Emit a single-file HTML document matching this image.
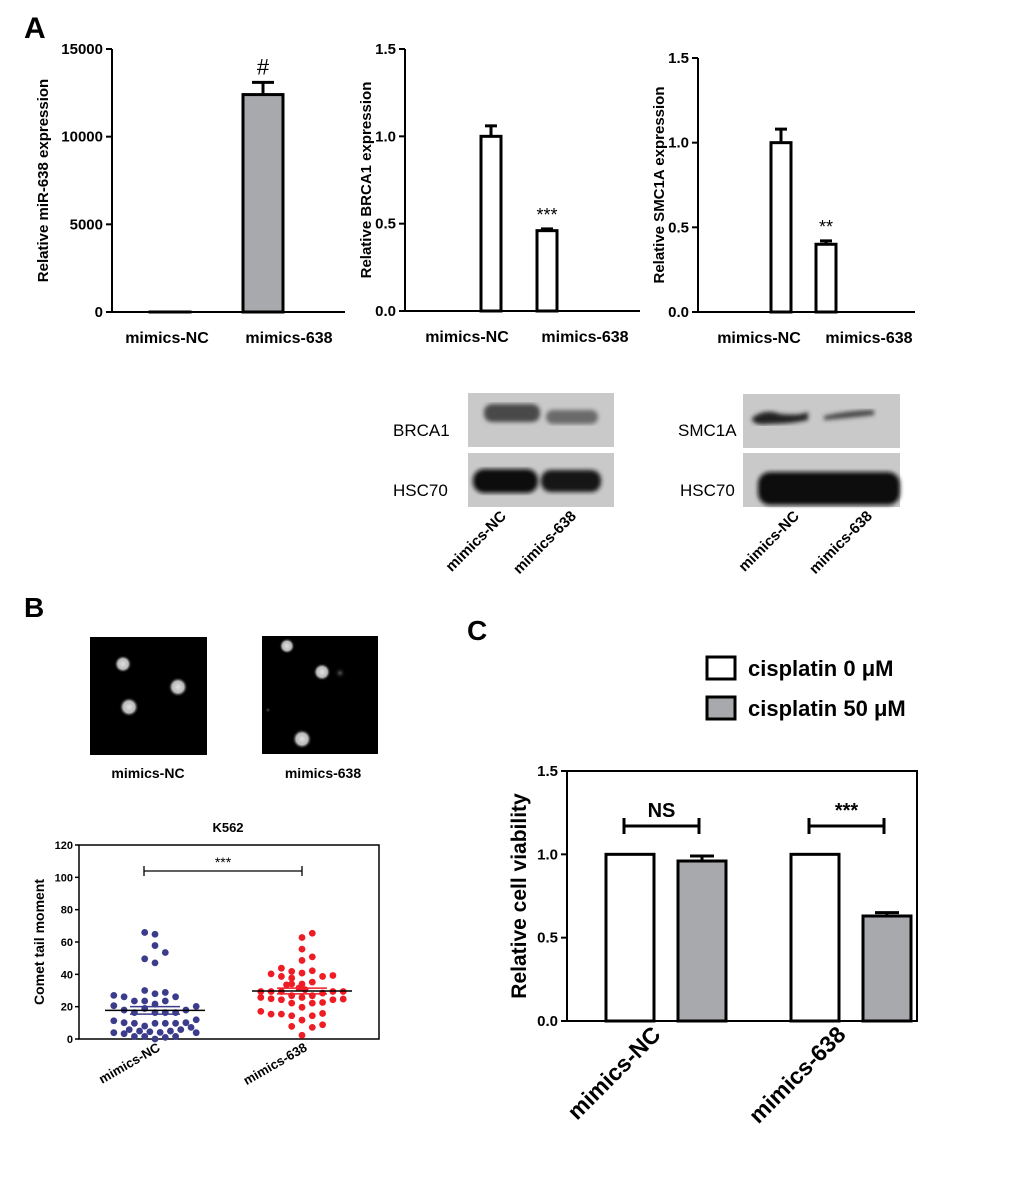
<!DOCTYPE html>
<html><head><meta charset="utf-8"><style>
body{margin:0;background:#fff;}
svg{display:block;font-family:"Liberation Sans",Arial,sans-serif;}
text{font-weight:bold;}
</style></head><body>
<svg id="s" width="1020" height="1177" viewBox="0 0 1020 1177" xmlns="http://www.w3.org/2000/svg">
<defs>
<radialGradient id="dot"><stop offset="0" stop-color="#e0e0e0"/><stop offset="0.6" stop-color="#b8b8b8"/><stop offset="1" stop-color="#000" stop-opacity="0"/></radialGradient>
<radialGradient id="dotf"><stop offset="0" stop-color="#555"/><stop offset="1" stop-color="#000" stop-opacity="0"/></radialGradient>
<filter id="blur"><feGaussianBlur stdDeviation="2.2"/></filter>
</defs>
<text x="24" y="38" font-size="30">A</text>
<text x="24" y="617" font-size="28">B</text>
<text x="467" y="640" font-size="28">C</text>
<g id="a1"></g>
<g id="a2"></g>
<g id="a3"></g>

<g>
<text x="393" y="436" font-size="17" style="font-weight:normal">BRCA1</text>
<text x="393" y="496" font-size="17" style="font-weight:normal">HSC70</text>
<rect x="468" y="393" width="146" height="54" fill="#c9c9c9"/>
<g filter="url(#blur)"><rect x="484" y="404" width="56" height="18" rx="8" fill="#4a4a4a"/><rect x="546" y="410" width="52" height="14" rx="7" fill="#6a6a6a"/></g>
<rect x="468" y="453" width="146" height="54" fill="#c9c9c9"/>
<g filter="url(#blur)"><rect x="473" y="469" width="65" height="24" rx="11" fill="#111"/><rect x="541" y="470" width="60" height="22" rx="10" fill="#151515"/></g>
<text transform="translate(507,517) rotate(-45)" text-anchor="end" font-size="15">mimics-NC</text>
<text transform="translate(577,517) rotate(-45)" text-anchor="end" font-size="15">mimics-638</text>
</g>
<g>
<text x="678" y="436" font-size="17" style="font-weight:normal">SMC1A</text>
<text x="680" y="496" font-size="17" style="font-weight:normal">HSC70</text>
<rect x="743" y="394" width="157" height="54" fill="#c9c9c9"/>
<g filter="url(#blur)"><path d="M752 418 Q765 408 780 414 Q800 416 808 412 L808 420 Q790 424 770 424 Q752 426 752 418Z" fill="#222"/><path d="M824 416 Q850 410 874 410 L874 415 Q850 418 824 420Z" fill="#444"/></g>
<rect x="743" y="453" width="157" height="54" fill="#c9c9c9"/>
<g filter="url(#blur)"><rect x="758" y="472" width="142" height="33" rx="12" fill="#0d0d0d"/></g>
<text transform="translate(800,517) rotate(-45)" text-anchor="end" font-size="15">mimics-NC</text>
<text transform="translate(873,517) rotate(-45)" text-anchor="end" font-size="15">mimics-638</text>
</g>

<g>
<rect x="90" y="637" width="117" height="118" fill="#000"/>
<circle cx="123" cy="664" r="9" fill="url(#dot)"/><circle cx="178" cy="687" r="10" fill="url(#dot)"/><circle cx="129" cy="707" r="10" fill="url(#dot)"/>
</g>
<text x="148" y="778" text-anchor="middle" font-size="14">mimics-NC</text>
<g>
<rect x="262" y="636" width="116" height="118" fill="#000"/>
<circle cx="287" cy="646" r="8" fill="url(#dot)"/><circle cx="322" cy="672" r="9" fill="url(#dot)"/><circle cx="340" cy="673" r="6" fill="url(#dotf)"/><circle cx="302" cy="739" r="10" fill="url(#dot)"/><circle cx="268" cy="710" r="3" fill="url(#dotf)"/>
</g>
<text x="323" y="778" text-anchor="middle" font-size="14">mimics-638</text>

<g id="b"></g>
<g id="c"></g>
</svg>
<script>
const NS="http://www.w3.org/2000/svg";
function mk(p,tag,at,txt){const e=document.createElementNS(NS,tag);for(const k in at)e.setAttribute(k,at[k]);if(txt!==undefined)e.textContent=txt;p.appendChild(e);return e;}

const aCats=["mimics-NC","mimics-638"];
const mirVals=[1,12400];const mirErr=[0,700];const mirTicks=[0,5000,10000,15000];
const brcaVals=[1.0,0.46];const brcaErr=[0.06,0.01];const brcaTicks=[0.0,0.5,1.0,1.5];
const smcVals=[1.0,0.40];const smcErr=[0.08,0.02];const smcTicks=[0.0,0.5,1.0,1.5];
const aSig1=["","#"];const aSig2=["","***"];const aSig3=["","**"];

function barChart(id,o){
  const g=document.getElementById(id);
  const y=v=>o.y0-(v-o.ticks[0])/(o.ticks[o.ticks.length-1]-o.ticks[0])*(o.y0-o.y1);
  const ax=mk(g,'g',{});
  
  
  mk(ax,'line',{x1:o.ax,y1:o.y1,x2:o.ax,y2:o.y0,stroke:'#000','stroke-width':2});
  mk(ax,'line',{x1:o.ax,y1:o.y0,x2:o.axEnd,y2:o.y0,stroke:'#000','stroke-width':2});
  o.ticks.forEach(t=>{
    mk(ax,'line',{x1:o.ax-6,y1:y(t),x2:o.ax,y2:y(t),stroke:'#000','stroke-width':2});
    const tl=mk(ax,'text',{x:o.ax-9,y:y(t)+5,'text-anchor':'end','font-size':15},o.fmt(t));
    
    
  });
  const tt=mk(g,'text',{transform:`translate(${o.tx},${(o.y0+o.y1)/2}) rotate(-90)`,'text-anchor':'middle','font-size':15},o.title);
  
  
  aCats.forEach((c,i)=>{
    const cx=o.cx[i];
    const top=y(o.vals[i]);
    const b=mk(g,'rect',{x:cx-o.bw/2,y:top,width:o.bw,height:o.y0-top,fill:o.fill,stroke:'#000','stroke-width':3});
    
    
    if(o.errs[i]>0){const ey=y(o.vals[i]+o.errs[i]);
      mk(g,'line',{x1:cx,y1:top,x2:cx,y2:ey,stroke:'#000','stroke-width':3});
      mk(g,'line',{x1:cx-o.bw/4-1,y1:ey,x2:cx+o.bw/4+1,y2:ey,stroke:'#000','stroke-width':3});}
    if(o.sig[i]){const s=mk(g,'text',{x:cx,y:y(o.vals[i]+o.errs[i])-8,'text-anchor':'middle','font-size':o.sigSize||18,style:'font-weight:normal'},o.sig[i]);
      
      }
    const l=mk(g,'text',{x:o.lx[i],y:o.y0+31,'text-anchor':'middle','font-size':16},c);
    
    
  });
}
barChart('a1',{ax:112,axEnd:345,y0:312,y1:49,ticks:mirTicks,fmt:t=>String(t),title:'Relative miR-638 expression',tx:48,
  vals:mirVals,errs:mirErr,cx:[170,263],bw:40,fill:'#a7a9ac',sig:aSig1,sigSize:22,lx:[167,289]});
barChart('a2',{ax:405,axEnd:640,y0:311,y1:49,ticks:brcaTicks,fmt:t=>t.toFixed(1),title:'Relative BRCA1 expression',tx:371,
  vals:brcaVals,errs:brcaErr,cx:[491,547],bw:20,fill:'#fff',sig:aSig2,lx:[467,585]});
barChart('a3',{ax:698,axEnd:915,y0:312,y1:58,ticks:smcTicks,fmt:t=>t.toFixed(1),title:'Relative SMC1A expression',tx:664,
  vals:smcVals,errs:smcErr,cx:[781,826],bw:20,fill:'#fff',sig:aSig3,lx:[759,869]});

const bGroups=["mimics-NC","mimics-638"];
const bTicks=[0,20,40,60,80,100,120];
const ncVals=[65.9,64.8,57.8,49.6,53.5,47.1,30.0,28.0,28.8,26.1,27.0,26.1,23.5,23.5,21.6,23.5,20.6,20.2,17.9,17.9,16.3,18.9,16.3,16.3,16.3,11.3,10.1,9.7,8.0,9.7,9.7,9.7,10.1,11.9,3.9,3.3,5.8,4.9,4.5,4.1,4.9,5.8,7.2,3.9,1.6,1.6,0,1.0,1.6];
const ncSlot=[-1,0,0,-1,1,0,-1,0,1,2,-4,-3,-2,-1,0,1,-4,4,3,-3,-2,-1,0,1,2,-4,-3,-2,-1,0,1,2,3,4,-4,-3,-2.5,-1.5,-0.5,0.5,1.5,2.5,3.5,4,-2,-1,0,1,2];
const m638Vals=[65.4,62.8,55.6,50.8,48.6,43.8,40.3,41.8,42.2,38.7,37.7,40.8,38.7,39.3,34,34,35.2,33.5,29.4,29.4,29.4,29.4,29.4,31.5,30.5,25.7,24.9,24.3,26.8,25.7,26.8,28.4,24.3,24.7,22.2,19.6,22.2,22.6,17.1,15.4,15.4,14.4,11.7,14.4,15.8,7.8,7.2,8.8,2.3];
const m638Slot=[1,0,0,1,0,-2,-3,-1,1,-2,-1,0,2,3,-1,0,1,-1.5,-4,-3,-2,3,4,-0.3,0.3,-4,-3,-2,-1,0,1,2,3,4,-1,0,1,2,-4,-3,-2,-1,0,1,2,-1,1,2,0];
const bMeans=[17.7,29.7];const bSem=[2.3,1.8];
(function(){
  const g=document.getElementById('b');
  const X0=79,X1=379,Y0=1039,Y1=845;
  const y=v=>Y0-v/120*(Y0-Y1);
  const cxs=[155,302];
  mk(g,'rect',{x:X0,y:Y1,width:X1-X0,height:Y0-Y1,fill:'none',stroke:'#000','stroke-width':1.5});
  bTicks.forEach(t=>{mk(g,'line',{x1:X0-4,y1:y(t),x2:X0,y2:y(t),stroke:'#000','stroke-width':1.5});
    const l=mk(g,'text',{x:X0-6,y:y(t)+4,'text-anchor':'end','font-size':11},t);
    
    });
  const ti=mk(g,'text',{x:228,y:832,'text-anchor':'middle','font-size':13},'K562');
  
  
  const yt=mk(g,'text',{transform:`translate(44,${(Y0+Y1)/2}) rotate(-90)`,'text-anchor':'middle','font-size':14},'Comet tail moment');
  
  
  const sets=[[ncVals,ncSlot,'#3c3c8c'],[m638Vals,m638Slot,'#ee1c25']];
  sets.forEach((s,gi)=>{
    s[0].forEach((v,i)=>{const c=mk(g,'circle',{cx:cxs[gi]+s[1][i]*10.3,cy:y(v),r:3.4,fill:s[2]});
      
      });
    mk(g,'line',{x1:cxs[gi]-50,y1:y(bMeans[gi]),x2:cxs[gi]+50,y2:y(bMeans[gi]),stroke:'#000','stroke-width':1.5});
    [1,-1].forEach(d=>mk(g,'line',{x1:cxs[gi]-25,y1:y(bMeans[gi]+d*bSem[gi]),x2:cxs[gi]+25,y2:y(bMeans[gi]+d*bSem[gi]),stroke:s[2],'stroke-width':1.5}));
    const l=mk(g,'text',{transform:`translate(${cxs[gi]+6},1050) rotate(-30)`,'text-anchor':'end','font-size':13},bGroups[gi]);
    
    
  });
  const bl=144,br=302,by=871;
  mk(g,'path',{d:`M${bl} ${by-5} V${by+5} M${bl} ${by} H${br} M${br} ${by-5} V${by+5}`,stroke:'#000','stroke-width':1.3,fill:'none'});
  const sg=mk(g,'text',{x:(bl+br)/2,y:by-4,'text-anchor':'middle','font-size':14,style:'font-weight:normal'},'***');
  
  
})();

const cCats=["mimics-NC","mimics-638"];
const cSeries=["cisplatin 0 μM","cisplatin 50 μM"];
const c0Vals=[1.0,1.0];const c0Err=[0,0];
const c50Vals=[0.96,0.63];const c50Err=[0.03,0.02];
const cTicks=[0.0,0.5,1.0,1.5];
const cSig=["NS","***"];
(function(){
  const g=document.getElementById('c');
  const X0=567,X1=917,Y0=1021,Y1=771;
  const y=v=>Y0-v/1.5*(Y0-Y1);
  const groupX=[630,815];const bw=48;const fills=['#fff','#a7a9ac'];
  mk(g,'rect',{x:X0,y:Y1,width:X1-X0,height:Y0-Y1,fill:'none',stroke:'#000','stroke-width':2});
  cTicks.forEach(t=>{mk(g,'line',{x1:X0-6,y1:y(t),x2:X0,y2:y(t),stroke:'#000','stroke-width':2});
    const l=mk(g,'text',{x:X0-9,y:y(t)+5,'text-anchor':'end','font-size':15},t.toFixed(1));
    
    });
  const yt=mk(g,'text',{transform:`translate(526,${(Y0+Y1)/2}) rotate(-90)`,'text-anchor':'middle','font-size':21},'Relative cell viability');
  
  
  const vals=[c0Vals,c50Vals],errs=[c0Err,c50Err];
  cCats.forEach((c,i)=>{
    [0,1].forEach(si=>{
      const cx=groupX[i]+(si===0?0:72);
      const top=y(vals[si][i]);
      const r=mk(g,'rect',{x:cx-bw/2,y:top,width:bw,height:Y0-top,fill:fills[si],stroke:'#000','stroke-width':3});
      
      
      if(errs[si][i]>0){const ey=y(vals[si][i]+errs[si][i]);
        mk(g,'line',{x1:cx,y1:top,x2:cx,y2:ey,stroke:'#000','stroke-width':3});
        mk(g,'line',{x1:cx-12,y1:ey,x2:cx+12,y2:ey,stroke:'#000','stroke-width':3});}
    });
    const bx1=groupX[i]-6,bx2=groupX[i]+69,by=826;
    mk(g,'path',{d:`M${bx1} ${by-8} V${by+8} M${bx1} ${by} H${bx2} M${bx2} ${by-8} V${by+8}`,stroke:'#000','stroke-width':3,fill:'none'});
    const s=mk(g,'text',{x:(bx1+bx2)/2,y:by-9,'text-anchor':'middle','font-size':20},cSig[i]);
    
    
    const l=mk(g,'text',{transform:`translate(${groupX[i]+32},1036) rotate(-45)`,'text-anchor':'end','font-size':23},c);
    
    
  });
  cSeries.forEach((s,i)=>{
    const ly=657+i*40;
    const sw=mk(g,'rect',{x:707,y:ly,width:28,height:22,fill:fills[i],stroke:'#000','stroke-width':3});
    
    
    const t=mk(g,'text',{x:748,y:ly+19,'font-size':22},s);
    
    
  });
})();
</script>
</body></html>
